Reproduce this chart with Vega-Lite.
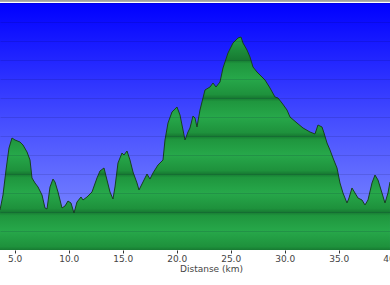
{
  "$schema": "https://vega.github.io/schema/vega-lite/v6.json",
  "width": 390,
  "height": 250,
  "autosize": {"type": "none"},
  "padding": {"left": 0, "top": 0, "right": 0, "bottom": 35},
  "background": "#ffffff",
  "config": {
    "view": {
      "stroke": null,
      "fill": {
        "gradient": "linear", "x1": 0, "y1": 0, "x2": 0, "y2": 1,
        "stops": [
          {"offset": 0, "color": "#9a9a9a"},
          {"offset": 0.006, "color": "#b0b0b0"},
          {"offset": 0.007, "color": "#ffffff"},
          {"offset": 0.012, "color": "#ffffff"},
          {"offset": 0.0135, "color": "#0000ff"},
          {"offset": 0.5, "color": "#4850ff"},
          {"offset": 1, "color": "#8896ff"}
        ]
      }
    }
  },
  "data": {"values": [
    {"km": 3.64, "elev": 105.3}, {"km": 3.918, "elev": 144.7}, {"km": 4.196, "elev": 210.5}, {"km": 4.473, "elev": 268.4},
    {"km": 4.751, "elev": 294.7}, {"km": 5.029, "elev": 289.5}, {"km": 5.492, "elev": 284.2}, {"km": 5.77, "elev": 276.3},
    {"km": 6.14, "elev": 257.9}, {"km": 6.418, "elev": 236.8}, {"km": 6.603, "elev": 189.5}, {"km": 6.881, "elev": 176.3},
    {"km": 7.159, "elev": 165.8}, {"km": 7.529, "elev": 144.7}, {"km": 7.807, "elev": 110.5}, {"km": 7.992, "elev": 107.9},
    {"km": 8.27, "elev": 165.8}, {"km": 8.547, "elev": 186.8}, {"km": 8.733, "elev": 178.9}, {"km": 9.01, "elev": 152.6},
    {"km": 9.381, "elev": 110.5}, {"km": 9.659, "elev": 115.8}, {"km": 9.936, "elev": 128.9}, {"km": 10.214, "elev": 123.7},
    {"km": 10.492, "elev": 97.4}, {"km": 10.77, "elev": 126.3}, {"km": 11.14, "elev": 139.5}, {"km": 11.325, "elev": 131.6},
    {"km": 11.696, "elev": 139.5}, {"km": 12.159, "elev": 152.6}, {"km": 12.621, "elev": 189.5}, {"km": 12.899, "elev": 207.9},
    {"km": 13.27, "elev": 215.8}, {"km": 13.547, "elev": 184.2}, {"km": 13.825, "elev": 152.6}, {"km": 14.103, "elev": 134.2},
    {"km": 14.288, "elev": 165.8}, {"km": 14.566, "elev": 228.9}, {"km": 14.936, "elev": 255.3}, {"km": 15.121, "elev": 250.0},
    {"km": 15.399, "elev": 260.5}, {"km": 15.677, "elev": 236.8}, {"km": 15.955, "elev": 205.3}, {"km": 16.325, "elev": 176.3},
    {"km": 16.51, "elev": 157.9}, {"km": 16.881, "elev": 178.9}, {"km": 17.251, "elev": 200.0}, {"km": 17.529, "elev": 186.8},
    {"km": 17.807, "elev": 202.6}, {"km": 18.27, "elev": 223.7}, {"km": 18.733, "elev": 236.8}, {"km": 18.918, "elev": 289.5},
    {"km": 19.196, "elev": 334.2}, {"km": 19.566, "elev": 363.2}, {"km": 20.029, "elev": 376.3}, {"km": 20.307, "elev": 355.3},
    {"km": 20.585, "elev": 315.8}, {"km": 20.77, "elev": 289.5}, {"km": 21.047, "elev": 310.5}, {"km": 21.233, "elev": 321.1},
    {"km": 21.51, "elev": 352.6}, {"km": 21.696, "elev": 347.4}, {"km": 21.881, "elev": 323.7}, {"km": 22.159, "elev": 368.4},
    {"km": 22.622, "elev": 421.1}, {"km": 23.084, "elev": 428.9}, {"km": 23.362, "elev": 439.5}, {"km": 23.64, "elev": 428.9},
    {"km": 24.01, "elev": 442.1}, {"km": 24.288, "elev": 478.9}, {"km": 24.751, "elev": 518.4}, {"km": 25.214, "elev": 544.7},
    {"km": 25.677, "elev": 557.9}, {"km": 25.955, "elev": 560.5}, {"km": 26.14, "elev": 544.7}, {"km": 26.51, "elev": 526.3},
    {"km": 26.788, "elev": 507.9}, {"km": 27.066, "elev": 481.6}, {"km": 27.436, "elev": 468.4}, {"km": 27.714, "elev": 460.5},
    {"km": 28.177, "elev": 447.4}, {"km": 28.64, "elev": 426.3}, {"km": 29.103, "elev": 402.6}, {"km": 29.381, "elev": 400.0},
    {"km": 29.751, "elev": 386.8}, {"km": 30.214, "elev": 368.4}, {"km": 30.492, "elev": 350.0}, {"km": 31.14, "elev": 334.2},
    {"km": 31.696, "elev": 321.1}, {"km": 32.344, "elev": 310.5}, {"km": 32.807, "elev": 305.3}, {"km": 33.085, "elev": 328.9},
    {"km": 33.455, "elev": 323.7}, {"km": 33.64, "elev": 307.9}, {"km": 33.918, "elev": 281.6}, {"km": 34.196, "elev": 263.2},
    {"km": 34.473, "elev": 242.1}, {"km": 34.844, "elev": 215.8}, {"km": 35.122, "elev": 176.3}, {"km": 35.399, "elev": 150.0},
    {"km": 35.77, "elev": 123.7}, {"km": 35.955, "elev": 136.8}, {"km": 36.233, "elev": 163.2}, {"km": 36.511, "elev": 150.0},
    {"km": 36.788, "elev": 136.8}, {"km": 37.159, "elev": 131.6}, {"km": 37.437, "elev": 118.4}, {"km": 37.714, "elev": 131.6},
    {"km": 38.085, "elev": 176.3}, {"km": 38.362, "elev": 197.4}, {"km": 38.64, "elev": 184.2}, {"km": 39.01, "elev": 150.0},
    {"km": 39.288, "elev": 123.7}, {"km": 39.566, "elev": 150.0}, {"km": 39.751, "elev": 178.9}
  ]},
  "encoding": {
    "x": {
      "field": "km", "type": "quantitative",
      "scale": {"domain": [3.64, 40.03], "range": [0, 393], "nice": false, "zero": false},
      "axis": {
        "values": [5, 10, 15, 20, 25, 30, 35, 40],
        "format": ".1f",
        "grid": false,
        "domain": false,
        "tickSize": 3,
        "tickColor": "#333333",
        "labelPadding": 1,
        "labelFont": "DejaVu Sans",
        "labelFontSize": 9,
        "labelColor": "#444444",
        "labelOverlap": false,
        "labelBound": false,
        "labelFlush": false,
        "title": "Distanse   (km)",
        "titleFont": "DejaVu Sans",
        "titleFontSize": 9,
        "titleFontWeight": "normal",
        "titleColor": "#444444",
        "titlePadding": 1,
        "titleX": 211
      }
    },
    "y": {
      "field": "elev", "type": "quantitative",
      "scale": {"domain": [0, 657.9], "nice": false},
      "axis": {
        "values": [50, 100, 150, 200, 250, 300, 350, 400, 450, 500, 550, 600, 650],
        "grid": true,
        "gridColor": "#000033",
        "gridOpacity": 0.12,
        "labels": false,
        "ticks": false,
        "domain": false,
        "title": null,
        "zindex": 1
      }
    }
  },
  "layer": [
    {
      "mark": {
        "type": "area",
        "interpolate": "linear",
        "clip": true,
        "fill": {
          "gradient": "linear", "x1": 0, "y1": 0, "x2": 0, "y2": 1,
          "stops": [
            {"offset": 0, "color": "#25a548"},
            {"offset": 0.108, "color": "#177a32"},
            {"offset": 0.125, "color": "#1f963e"},
            {"offset": 0.197, "color": "#27a84a"},
            {"offset": 0.27, "color": "#1e913c"},
            {"offset": 0.286, "color": "#177a32"},
            {"offset": 0.303, "color": "#1f963e"},
            {"offset": 0.376, "color": "#27a84a"},
            {"offset": 0.449, "color": "#1e913c"},
            {"offset": 0.465, "color": "#177a32"},
            {"offset": 0.482, "color": "#1f963e"},
            {"offset": 0.554, "color": "#27a84a"},
            {"offset": 0.627, "color": "#1e913c"},
            {"offset": 0.643, "color": "#177a32"},
            {"offset": 0.66, "color": "#1f963e"},
            {"offset": 0.732, "color": "#27a84a"},
            {"offset": 0.805, "color": "#1e913c"},
            {"offset": 0.822, "color": "#177a32"},
            {"offset": 0.839, "color": "#1f963e"},
            {"offset": 0.911, "color": "#27a84a"},
            {"offset": 0.984, "color": "#1e913c"},
            {"offset": 1, "color": "#177a32"}
          ]
        }
      }
    },
    {
      "mark": {"type": "line", "interpolate": "linear", "clip": true, "stroke": "#17401f", "strokeWidth": 1}
    }
  ]
}
